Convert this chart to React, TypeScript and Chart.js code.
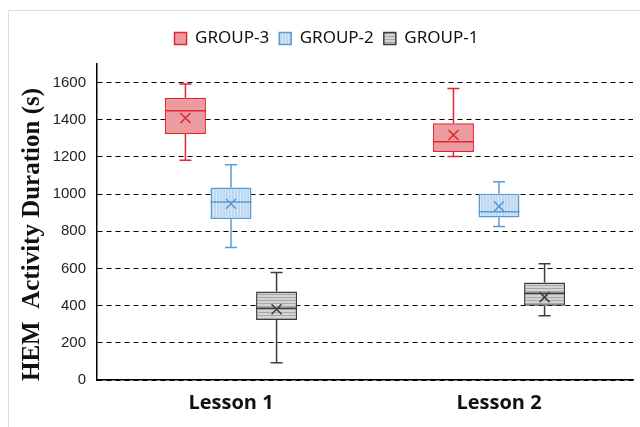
import { useEffect, useRef } from "react";
import { Chart, registerables } from "chart.js";
Chart.register(...registerables);

const categories = ["Lesson 1", "Lesson 2"];
const groupNames = ["GROUP-3", "GROUP-2", "GROUP-1"];

const group3Min = [1182, 1203];
const group3Q1 = [1324, 1227];
const group3Median = [1449, 1282];
const group3Q3 = [1518, 1381];
const group3Max = [1593, 1568];
const group3Mean = [1410, 1318];

const group2Min = [713, 826];
const group2Q1 = [866, 874];
const group2Median = [957, 905];
const group2Q3 = [1036, 1002];
const group2Max = [1158, 1067];
const group2Mean = [948, 934];

const group1Min = [93, 346];
const group1Q1 = [323, 400];
const group1Median = [386, 467];
const group1Q3 = [476, 524];
const group1Max = [578, 625];
const group1Mean = [381, 446];

const yTickValues = [0, 200, 400, 600, 800, 1000, 1200, 1400, 1600];
const yMax = 1700;

function makePattern(bg: string, line: string, vertical: boolean) {
  const c = document.createElement("canvas");
  c.width = 3;
  c.height = 3;
  const ctx = c.getContext("2d")!;
  ctx.fillStyle = bg;
  ctx.fillRect(0, 0, 3, 3);
  ctx.fillStyle = line;
  if (vertical) ctx.fillRect(0, 0, 1, 3);
  else ctx.fillRect(0, 0, 3, 1);
  return ctx.createPattern(c, "repeat")!;
}

export default function App() {
  const ref = useRef<HTMLCanvasElement>(null);
  useEffect(() => {
    const canvas = ref.current!;
    const stats = [
      { min: group3Min, q1: group3Q1, med: group3Median, q3: group3Q3, max: group3Max, mean: group3Mean },
      { min: group2Min, q1: group2Q1, med: group2Median, q3: group2Q3, max: group2Max, mean: group2Mean },
      { min: group1Min, q1: group1Q1, med: group1Median, q3: group1Q3, max: group1Max, mean: group1Mean },
    ];
    const borders = ["#e3262f", "#5b9bd5", "#3c3c3c"];
    const fills: any[] = [
      "#eb9ca0",
      makePattern("#bcd7f0", "#d9e8f7", true),
      makePattern("#d4d4d4", "#a8a8a8", false),
    ];

    const framePlugin = {
      id: "frame",
      beforeDraw(chart: any) {
        const ctx = chart.ctx;
        ctx.save();
        ctx.strokeStyle = "#dcdcdc";
        ctx.lineWidth = 1;
        ctx.beginPath();
        ctx.moveTo(8.5, chart.height);
        ctx.lineTo(8.5, 10.5);
        ctx.lineTo(chart.width, 10.5);
        ctx.stroke();
        ctx.restore();
      },
    };

    const legendSpacer = {
      id: "legendSpacer",
      afterInit(chart: any) {
        const lg = chart.legend;
        if (!lg) return;
        const origFit = lg.fit.bind(lg);
        lg.fit = function () {
          origFit();
          this.height += 7;
        };
      },
      afterLayout(chart: any) {
        const lg = chart.legend;
        if (!lg) return;
        lg.left += 10;
        lg.right += 10;
      },
    };

    const boxPlugin = {
      id: "boxwhisker",
      afterDatasetsDraw(chart: any) {
        const ctx = chart.ctx;
        const ys = chart.scales.y;
        stats.forEach((s, i) => {
          const meta = chart.getDatasetMeta(i);
          meta.data.forEach((el: any, j: number) => {
            const x = el.x;
            const w = el.width;
            const yMaxP = ys.getPixelForValue(s.max[j]);
            const yQ3 = ys.getPixelForValue(s.q3[j]);
            const yQ1 = ys.getPixelForValue(s.q1[j]);
            const yMinP = ys.getPixelForValue(s.min[j]);
            const yMed = ys.getPixelForValue(s.med[j]);
            const yMean = ys.getPixelForValue(s.mean[j]);
            ctx.save();
            ctx.strokeStyle = borders[i];
            ctx.lineWidth = 1.5;
            ctx.beginPath();
            ctx.moveTo(x, yMaxP);
            ctx.lineTo(x, yQ3);
            ctx.moveTo(x, yQ1);
            ctx.lineTo(x, yMinP);
            ctx.moveTo(x - 6, yMaxP);
            ctx.lineTo(x + 6, yMaxP);
            ctx.moveTo(x - 6, yMinP);
            ctx.lineTo(x + 6, yMinP);
            ctx.moveTo(x - w / 2, yMed);
            ctx.lineTo(x + w / 2, yMed);
            const r = 5;
            ctx.moveTo(x - r, yMean - r);
            ctx.lineTo(x + r, yMean + r);
            ctx.moveTo(x + r, yMean - r);
            ctx.lineTo(x - r, yMean + r);
            ctx.stroke();
            ctx.restore();
          });
        });
      },
    };

    const chart = new Chart(canvas, {
      type: "bar",
      data: {
        labels: categories,
        datasets: stats.map((s, i) => ({
          label: groupNames[i],
          data: s.q1.map((q, j) => [q, s.q3[j]]) as any,
          backgroundColor: fills[i],
          borderColor: borders[i],
          borderWidth: 1.5,
          borderSkipped: false,
          categoryPercentage: 0.51,
          barPercentage: 0.9,
        })),
      },
      options: {
        responsive: false,
        animation: false,
        layout: { padding: { top: 20, left: 0, right: 7, bottom: 0 } },
        plugins: {
          tooltip: { enabled: false },
          legend: {
            position: "top",
            labels: {
              boxWidth: 12,
              boxHeight: 12,
              padding: 10,
              color: "#111",
              font: { family: "'Noto Sans', sans-serif", size: 17 },
            },
          },
        },
        scales: {
          x: {
            grid: { display: false },
            border: { display: true, color: "#000", width: 1.5 },
            ticks: {
              color: "#111",
              padding: 3,
              font: { family: "'Open Sans', sans-serif", size: 20, weight: "bold" },
            },
            afterFit(scale: any) {
              scale.height = 47;
            },
          },
          y: {
            min: 0,
            max: yMax,
            afterBuildTicks(scale: any) {
              scale.ticks = yTickValues.map((v) => ({ value: v }));
            },
            afterFit(scale: any) {
              scale.width = 97;
            },
            grid: { color: "#000", lineWidth: 1, drawTicks: false },
            border: { display: true, color: "#000", width: 1.5, dash: [5, 4] },
            ticks: {
              color: "#222",
              padding: 11,
              font: { family: "'Liberation Sans', Arial, sans-serif", size: 15 },
              callback: (v: any) => String(v),
            },
            title: {
              display: true,
              text: "HEM  Activity Duration (s)    ",
              color: "#111",
              padding: { top: 18, bottom: 0 },
              font: { family: "'Liberation Serif', 'Times New Roman', serif", size: 25, weight: "bold" },
            },
          },
        },
      },
      plugins: [framePlugin, legendSpacer, boxPlugin],
    });
    return () => chart.destroy();
  }, []);
  return (
    <div style={{ position: "fixed", left: 0, top: 0, width: 640, height: 427, background: "#fff" }}>
      <canvas ref={ref} width={640} height={427} />
    </div>
  );
}
